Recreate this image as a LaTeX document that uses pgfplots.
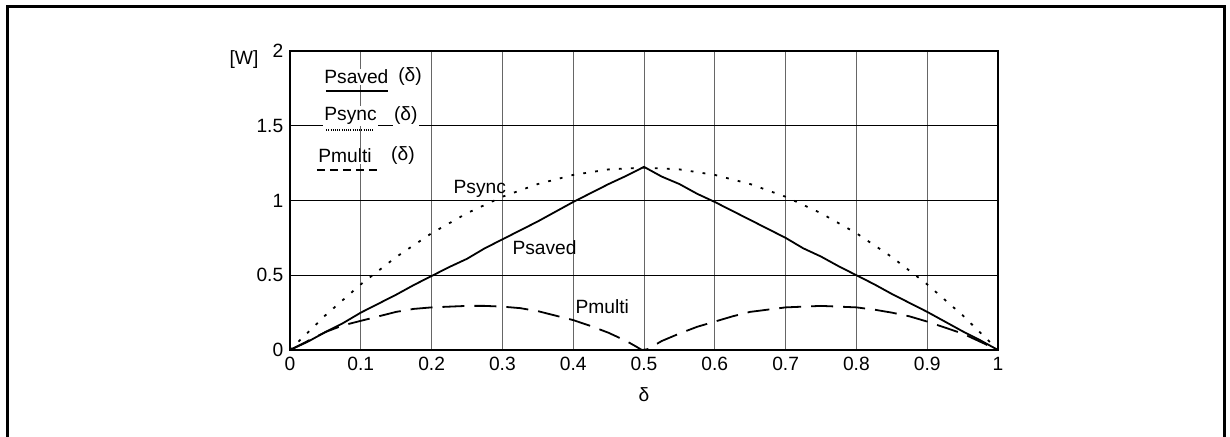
\documentclass[border=0pt]{standalone}
\usepackage{fontspec}
\setmainfont{Liberation Sans}
\usepackage{pgfplots}
\pgfplotsset{compat=1.18}

\begin{document}
\fontsize{9.6}{11.5}\selectfont
\begin{tikzpicture}
  \begin{axis}[
      scale only axis,
      width=354pt, height=149.5pt,
      xmin=0, xmax=1, ymin=0, ymax=2,
      xtick={0,0.1,0.2,0.3,0.4,0.5,0.6,0.7,0.8,0.9,1},
      ytick={0,0.5,1,1.5,2},
      /pgf/number format/assume math mode=true,
      grid=major,
      x grid style={black!60, line width=0.5pt},
      y grid style={black, line width=0.5pt},
      axis line style={line width=1pt},
      major tick length=0pt,
      xlabel={δ},
      xlabel style={at={(axis description cs:0.5,0)}, anchor=center, yshift=-22.5pt},
      clip=false,
    ]

    % Psaved
    \addplot[black, line width=0.9pt] coordinates {
      (0,0) (0.025,0.055) (0.05,0.12) (0.075,0.18) (0.1,0.25) (0.125,0.31)
      (0.15,0.37) (0.175,0.435) (0.2,0.495) (0.225,0.555) (0.25,0.61)
      (0.275,0.68) (0.3,0.74) (0.325,0.80) (0.35,0.86) (0.375,0.925)
      (0.4,0.99) (0.425,1.05) (0.45,1.11) (0.475,1.165) (0.5,1.225)
      (0.525,1.16) (0.55,1.11) (0.575,1.045) (0.6,0.99) (0.625,0.93)
      (0.65,0.87) (0.675,0.81) (0.7,0.75) (0.725,0.68) (0.75,0.625)
      (0.775,0.56) (0.8,0.50) (0.825,0.44) (0.85,0.375) (0.875,0.315)
      (0.9,0.255) (0.925,0.19) (0.95,0.125) (0.975,0.065) (1,0)
    };

    % Psync
    \addplot[black, line width=0.9pt, dash pattern=on 1.4pt off 4.6pt] coordinates {
      (0,0) (0.05,0.232) (0.1,0.439) (0.15,0.622) (0.2,0.781) (0.25,0.915)
      (0.3,1.025) (0.35,1.110) (0.4,1.171) (0.45,1.208) (0.5,1.22)
      (0.55,1.208) (0.6,1.171) (0.65,1.110) (0.7,1.025) (0.75,0.915)
      (0.8,0.781) (0.85,0.622) (0.9,0.439) (0.95,0.232) (1,0)
    };

    % Pmulti
    \addplot[black, line width=0.9pt, dash pattern=on 11pt off 5pt] coordinates {
      (0,0) (0.025,0.06) (0.05,0.12) (0.075,0.165) (0.1,0.195) (0.125,0.225)
      (0.15,0.255) (0.175,0.275) (0.2,0.285) (0.225,0.29) (0.25,0.295)
      (0.275,0.295) (0.3,0.29) (0.325,0.28) (0.35,0.26) (0.375,0.23)
      (0.4,0.2) (0.425,0.16) (0.45,0.115) (0.475,0.06) (0.49,0.02) (0.497,0)
      (0.505,0.005) (0.525,0.06) (0.55,0.11) (0.575,0.155) (0.6,0.19)
      (0.625,0.225) (0.65,0.255) (0.675,0.27) (0.7,0.285) (0.725,0.29)
      (0.75,0.295) (0.775,0.29) (0.8,0.285) (0.825,0.27) (0.85,0.25)
      (0.875,0.225) (0.9,0.19) (0.925,0.15) (0.95,0.11) (0.975,0.055) (1,0)
    };

    % curve labels
    \node at (axis cs:0.268,1.077) {Psync};
    \node at (axis cs:0.3595,0.682) {Psaved};
    \node at (axis cs:0.441,0.287) {Pmulti};

    % unit
    \node at (axis cs:-0.065,1.946) {[W]};

    % legend
    \node[anchor=west, inner sep=0.5pt, fill=white] at (axis cs:0.0466,1.828) {Psaved};
    \node[anchor=west, inner sep=0.5pt, fill=white] at (axis cs:0.151,1.828) {(δ)};
    \draw[line width=0.9pt] (axis cs:0.0508,1.732) -- (axis cs:0.138,1.732);

    \node[anchor=west, inner sep=0.5pt, fill=white] at (axis cs:0.0466,1.565) {Psync};
    \node[anchor=west, inner sep=0.5pt, fill=white] at (axis cs:0.145,1.565) {(δ)};
    \draw[line width=0.6pt, dash pattern=on 0.5pt off 0.6pt] (axis cs:0.051,1.472) -- (axis cs:0.119,1.472);

    \node[anchor=west, inner sep=0.5pt, fill=white] at (axis cs:0.038,1.298) {Pmulti};
    \node[anchor=west, inner sep=0.5pt, fill=white] at (axis cs:0.141,1.298) {(δ)};
    \draw[line width=0.8pt, dash pattern=on 4pt off 2.5pt] (axis cs:0.038,1.204) -- (axis cs:0.124,1.204);
  \end{axis}

  % outer frame, cut at the bottom
  \draw[line width=1.5pt] (-141pt,-60pt) -- (-141pt,171.75pt) -- (467pt,171.75pt) -- (467pt,-60pt);
  \pgfresetboundingbox
  \useasboundingbox (-145pt,-43.5pt) rectangle (470pt,175pt);
\end{tikzpicture}
\end{document}
